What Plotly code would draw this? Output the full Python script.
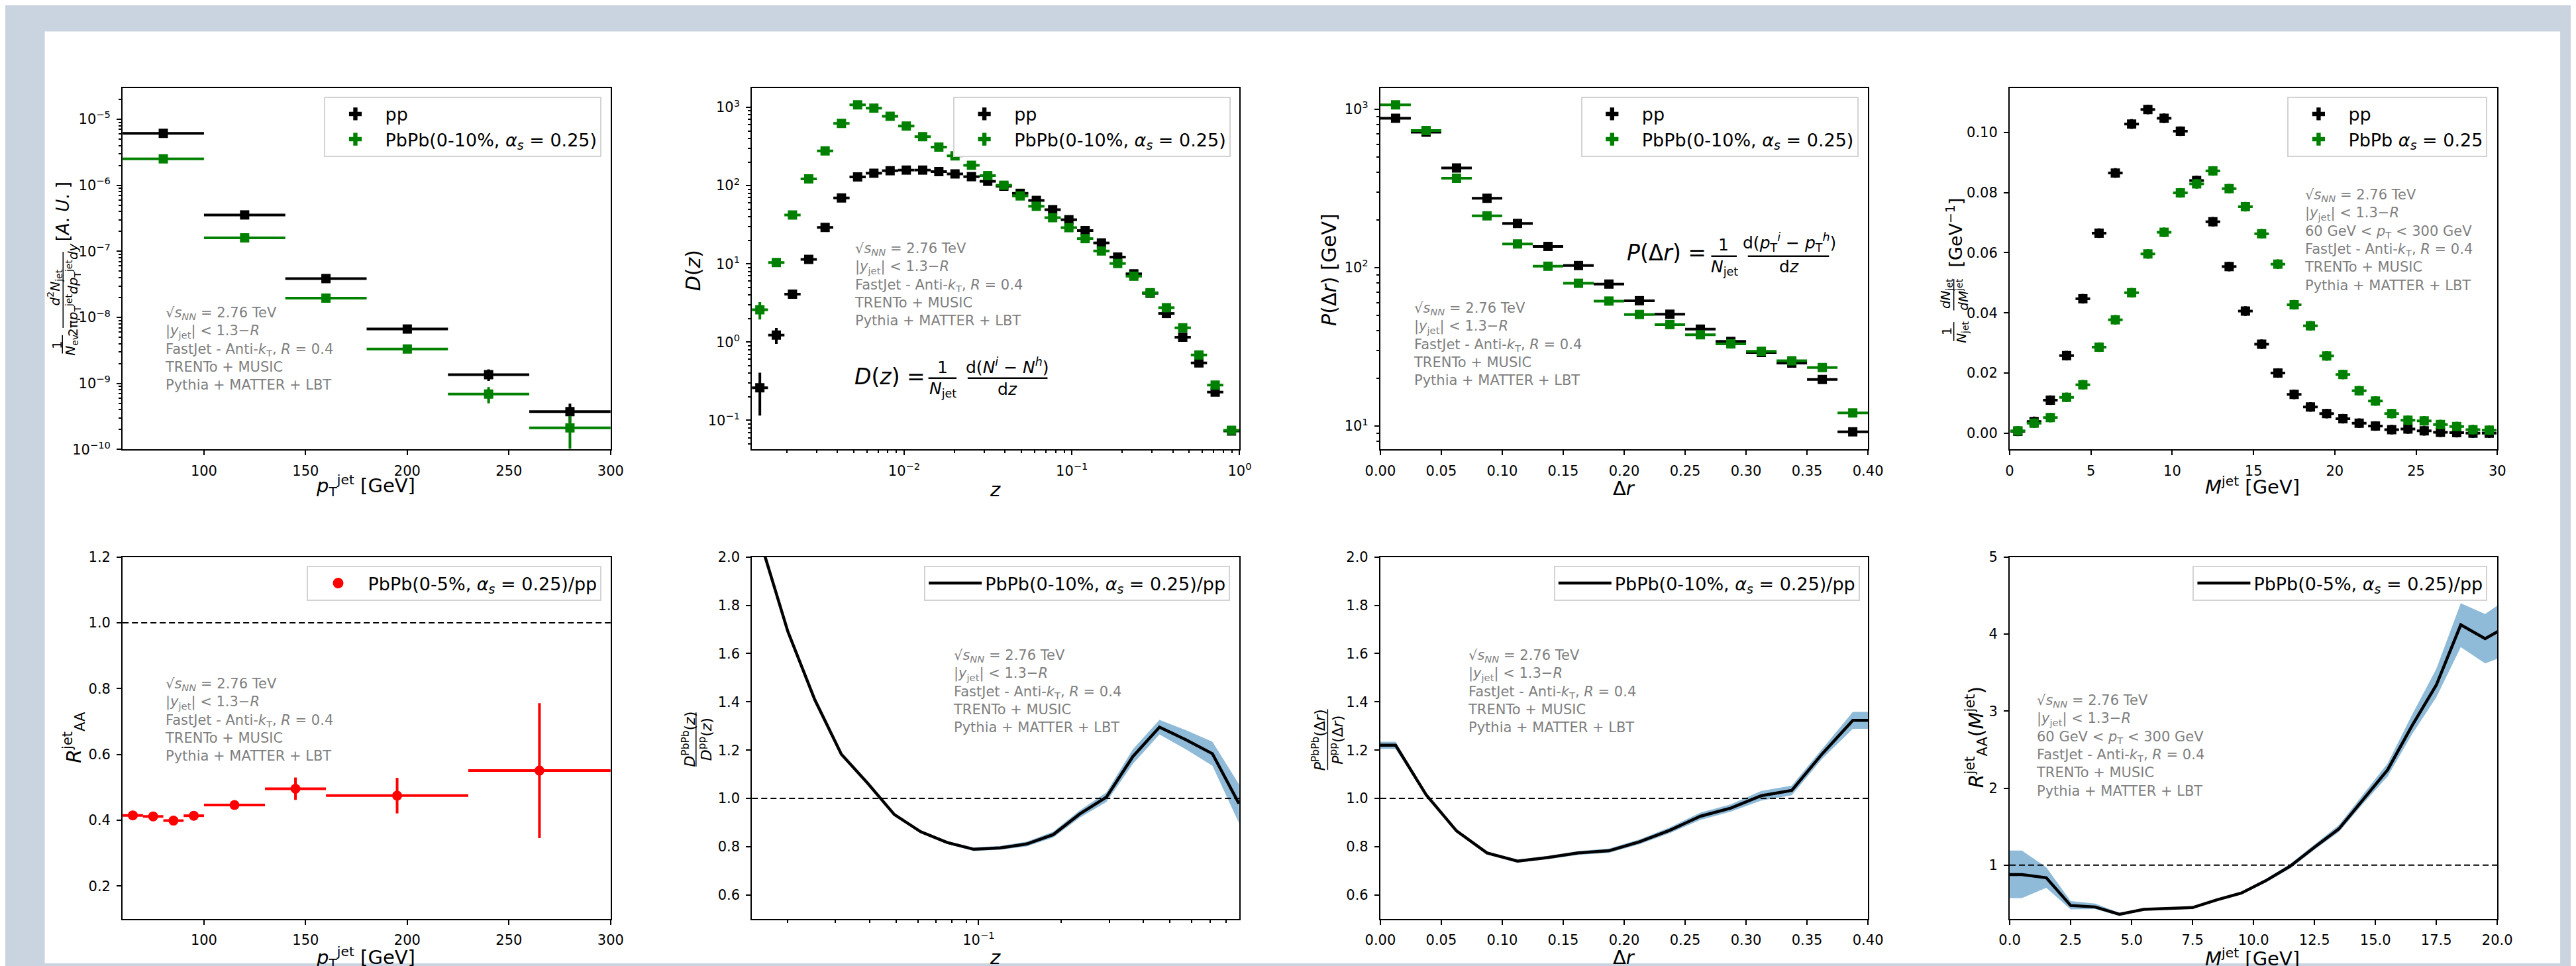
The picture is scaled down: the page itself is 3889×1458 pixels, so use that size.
import plotly.graph_objects as go

W, H = 3889, 1458
FONT = "DejaVu Sans"
BAND = "rgba(31,119,180,0.5)"

# ---------------- data ----------------
# Panel 1: jet spectra
pt_centers = [80, 120, 160, 200, 240, 280]
pt_halfbin = [20, 20, 20, 20, 20, 20]
pp_spec = [6.13e-6, 3.56e-7, 3.87e-8, 6.67e-9, 1.36e-9, 3.76e-10]
pp_spec_err = [2.0e-7, 1.5e-8, 2.0e-9, 4.0e-10, 2.7e-10, 1.2e-10]
pbpb_spec = [2.52e-6, 1.60e-7, 1.96e-8, 3.32e-9, 6.9e-10, 2.13e-10]
pbpb_spec_err = [1.0e-7, 8.0e-9, 1.2e-9, 3.0e-10, 1.9e-10, 1.1e-10]

# Panel 2: fragmentation function D(z)
z_vals = [0.00138, 0.00173, 0.00216, 0.0027, 0.00338, 0.00423, 0.00528, 0.0066,
          0.00825, 0.0103, 0.0129, 0.0161, 0.0201, 0.0252, 0.0315, 0.0393,
          0.0492, 0.0614, 0.0768, 0.096, 0.12, 0.15, 0.1875, 0.234, 0.293,
          0.366, 0.458, 0.572, 0.715, 0.894]
z_bin_ratio = 1.118
pp_D = [0.26, 1.23, 4.09, 11.4, 29.2, 69.5, 129, 144, 155, 158, 158, 151, 141, 130,
        113.5, 98.3, 79.6, 64.6, 49.2, 36.6, 26.6, 18.5, 12.2, 7.45, 4.2, 2.32,
        1.15, 0.54, 0.229, 0.073]
pp_D_err = [0.145, 0.28, 0.3, 0.6, 1.2, 2.5, 4, 4, 4, 4, 4, 4, 4, 3.5, 3, 3, 2.5, 2,
            1.6, 1.2, 0.9, 0.6, 0.4, 0.25, 0.15, 0.09, 0.05, 0.025, 0.012, 0.004]
pbpb_D = [2.59, 10.4, 42, 122, 277, 624, 1079, 975, 770, 578, 423, 310, 240, 182,
          134, 101, 73.8, 54.4, 38.9, 29, 21, 14.6, 10.1, 6.95, 4.27, 2.75, 1.52,
          0.684, 0.282, 0.0745]
pbpb_D_err = [0.65, 0.5, 1.5, 4, 9, 20, 35, 30, 24, 18, 13, 9, 7, 5.5, 4, 3, 2.2, 1.6,
              1.2, 0.9, 0.65, 0.45, 0.3, 0.2, 0.13, 0.09, 0.05, 0.025, 0.012, 0.004]

# Panel 3: jet shape P(dr)
dr_vals = [0.0125, 0.0375, 0.0625, 0.0875, 0.1125, 0.1375, 0.1625, 0.1875,
           0.2125, 0.2375, 0.2625, 0.2875, 0.3125, 0.3375, 0.3625, 0.3875]
dr_half = [0.0125] * 16
pp_P = [875, 716, 425, 274, 190, 136, 103, 78.7, 61.8, 50.8, 40.9, 34.2, 29.1, 25.0, 19.7, 9.2]
pp_P_err = [15, 12, 8, 6, 4, 3, 2.5, 2, 1.6, 1.4, 1.2, 1.0, 0.9, 0.8, 0.7, 0.4]
pbpb_P = [1064, 733, 366, 212, 141, 102, 79.6, 61.5, 50.6, 43.7, 37.7, 33.0, 29.6, 25.8, 23.4, 12.1]
pbpb_P_err = [18, 12, 7, 5, 3.5, 2.5, 2, 1.6, 1.4, 1.2, 1.1, 1.0, 0.9, 0.8, 0.7, 0.5]

# Panel 4: jet mass
m_vals = [0.5, 1.5, 2.5, 3.5, 4.5, 5.5, 6.5, 7.5, 8.5, 9.5, 10.5, 11.5, 12.5, 13.5, 14.5,
          15.5, 16.5, 17.5, 18.5, 19.5, 20.5, 21.5, 22.5, 23.5, 24.5, 25.5, 26.5, 27.5,
          28.5, 29.5]
m_half = [0.45] * 30
pp_M = [0.0006, 0.0039, 0.011, 0.0258, 0.0447, 0.0665, 0.0865, 0.1028, 0.1076, 0.1047,
        0.1004, 0.0840, 0.0703, 0.0554, 0.0406, 0.0296, 0.0200, 0.0129, 0.0087, 0.0065,
        0.0048, 0.0033, 0.0024, 0.0012, 0.0014, 0.0008, 0.0003, 0.0002, 0.0000, 0.0000]
pbpb_M = [0.0008, 0.0033, 0.0052, 0.0119, 0.0161, 0.0286, 0.0377, 0.0467, 0.0596, 0.0668,
          0.0799, 0.0829, 0.0872, 0.0813, 0.0753, 0.0663, 0.0562, 0.0427, 0.0357, 0.0257,
          0.0195, 0.0141, 0.0107, 0.0065, 0.0043, 0.0041, 0.0029, 0.0022, 0.0012, 0.0010]
M_err = [0.0016] * 30

# Panel 5: R_AA(pT)
raa_pt = [65, 75, 85, 95, 115, 145, 195, 265]
raa_lo = [60, 70, 80, 90, 100, 130, 160, 230]
raa_hi = [70, 80, 90, 100, 130, 160, 230, 300]
raa = [0.415, 0.412, 0.399, 0.414, 0.4465, 0.496, 0.475, 0.551]
raa_err = [0.008, 0.007, 0.007, 0.009, 0.012, 0.034, 0.054, 0.205]

# Panel 6: D(z) ratio
zr_vals = [0.0161, 0.0201, 0.0252, 0.0315, 0.0393, 0.0492, 0.0614, 0.0768, 0.096, 0.12,
           0.15, 0.1875, 0.234, 0.293, 0.366, 0.458, 0.572, 0.715, 0.894]
D_ratio = [2.05, 1.691, 1.409, 1.183, 1.063, 0.933, 0.862, 0.817, 0.789, 0.795, 0.811,
           0.85, 0.935, 1.005, 1.173, 1.295, 1.243, 1.185, 0.978]
D_ratio_err = [0.01, 0.01, 0.008, 0.007, 0.006, 0.006, 0.006, 0.006, 0.007, 0.008, 0.01,
               0.012, 0.015, 0.02, 0.03, 0.03, 0.04, 0.05, 0.08]

# Panel 7: P(dr) ratio
drr_vals = [0.0, 0.0125, 0.0375, 0.0625, 0.0875, 0.1125, 0.1375, 0.1625, 0.1875, 0.2125,
            0.2375, 0.2625, 0.2875, 0.3125, 0.3375, 0.3625, 0.3875, 0.4]
P_ratio = [1.22, 1.22, 1.015, 0.865, 0.774, 0.740, 0.755, 0.774, 0.783, 0.820, 0.868,
           0.926, 0.96, 1.011, 1.033, 1.185, 1.323, 1.323]
P_ratio_err = [0.015, 0.015, 0.008, 0.006, 0.006, 0.006, 0.007, 0.008, 0.009, 0.01, 0.012,
               0.015, 0.015, 0.02, 0.02, 0.02, 0.035, 0.035]

# Panel 8: R_AA(M)
mr_vals = [0.0, 0.5, 1.5, 2.5, 3.5, 4.5, 5.5, 6.5, 7.5, 8.5, 9.5, 10.5, 11.5, 12.5, 13.5,
           14.5, 15.5, 16.5, 17.5, 18.5, 19.5, 20.5]
M_ratio = [0.878, 0.878, 0.836, 0.476, 0.457, 0.361, 0.426, 0.433, 0.449, 0.55, 0.637,
           0.797, 0.985, 1.233, 1.47, 1.853, 2.237, 2.81, 3.34, 4.12, 3.94, 4.12]
M_ratio_lo = [0.572, 0.572, 0.706, 0.426, 0.43, 0.34, 0.41, 0.42, 0.435, 0.535, 0.62,
              0.775, 0.955, 1.2, 1.43, 1.80, 2.15, 2.70, 3.18, 3.83, 3.62, 3.74]
M_ratio_hi = [1.19, 1.19, 0.973, 0.533, 0.50, 0.38, 0.44, 0.445, 0.465, 0.565, 0.655,
              0.82, 1.015, 1.27, 1.52, 1.92, 2.32, 2.95, 3.55, 4.40, 4.26, 4.48]

LEG_PP = "pp"
LEG_PB10 = "PbPb(0-10%, <i>α</i><sub><i>s</i></sub> = 0.25)"
LEG_PB_M = "PbPb <i>α</i><sub><i>s</i></sub> = 0.25"
LEG_R5 = "PbPb(0-5%, <i>α</i><sub><i>s</i></sub> = 0.25)/pp"
LEG_R10 = "PbPb(0-10%, <i>α</i><sub><i>s</i></sub> = 0.25)/pp"

# ---------------- helpers ----------------
def px(x):
    return x / W


def py(y):
    return 1 - y / H


COLS = [(156, 901.5), (1117.5, 1862.5), (2077.5, 2822.5), (3039, 3784)]
ROWS = [(115, 669.5), (834.5, 1390)]

fig = go.Figure()


def ax_names(i):
    return ("x" if i == 1 else f"x{i}"), ("y" if i == 1 else f"y{i}")


def leg_name(i):
    return "legend" if i == 1 else f"legend{i}"


def points(i, x, y, xe, ye, color, symbol="square", xem=None, size=14):
    xa, ya = ax_names(i)
    ex = dict(type="data", array=xe, thickness=4, width=0, color=color)
    if xem is not None:
        ex["arrayminus"] = xem
        ex["symmetric"] = False
    fig.add_trace(go.Scatter(
        x=x, y=y, mode="markers", xaxis=xa, yaxis=ya, showlegend=False,
        marker=dict(symbol=symbol, size=size, color=color, line=dict(width=0)),
        error_x=ex,
        error_y=dict(type="data", array=ye, thickness=4, width=0, color=color),
        cliponaxis=True))


def legend_marker(i, name, color, symbol="cross"):
    xa, ya = ax_names(i)
    fig.add_trace(go.Scatter(
        x=[None], y=[None], mode="markers", xaxis=xa, yaxis=ya, name=name,
        legend=leg_name(i), showlegend=True,
        marker=dict(symbol=symbol, size=24, color=color, line=dict(width=0))))


def ratio_line(i, x, y, lo, hi, name):
    xa, ya = ax_names(i)
    fig.add_trace(go.Scatter(x=x, y=lo, mode="lines", xaxis=xa, yaxis=ya,
                             line=dict(width=0, color=BAND), showlegend=False,
                             hoverinfo="skip"))
    fig.add_trace(go.Scatter(x=x, y=hi, mode="lines", xaxis=xa, yaxis=ya,
                             line=dict(width=0, color=BAND), fill="tonexty",
                             fillcolor=BAND, showlegend=False, hoverinfo="skip"))
    fig.add_trace(go.Scatter(x=x, y=y, mode="lines", xaxis=xa, yaxis=ya,
                             line=dict(width=4.5, color="black"), name=name,
                             legend=leg_name(i), showlegend=True))


# ---------------- traces ----------------
points(1, pt_centers, pp_spec, pt_halfbin, pp_spec_err, "black")
points(1, pt_centers, pbpb_spec, pt_halfbin, pbpb_spec_err, "green")
legend_marker(1, LEG_PP, "black")
legend_marker(1, LEG_PB10, "green")

z_plus = [z * z_bin_ratio - z for z in z_vals]
z_minus = [z - z / z_bin_ratio for z in z_vals]
points(2, z_vals, pp_D, z_plus, pp_D_err, "black", xem=z_minus)
points(2, z_vals, pbpb_D, z_plus, pbpb_D_err, "green", xem=z_minus)
legend_marker(2, LEG_PP, "black")
legend_marker(2, LEG_PB10, "green")

points(3, dr_vals, pp_P, dr_half, pp_P_err, "black")
points(3, dr_vals, pbpb_P, dr_half, pbpb_P_err, "green")
legend_marker(3, LEG_PP, "black")
legend_marker(3, LEG_PB10, "green")

points(4, m_vals, pp_M, m_half, M_err, "black")
points(4, m_vals, pbpb_M, m_half, M_err, "green")
legend_marker(4, LEG_PP, "black")
legend_marker(4, LEG_PB_M, "green")

points(5, raa_pt, raa, [h - c for h, c in zip(raa_hi, raa_pt)], raa_err, "red",
       symbol="circle", xem=[c - l for l, c in zip(raa_lo, raa_pt)], size=15)
legend_marker(5, LEG_R5, "red", symbol="circle")

ratio_line(6, zr_vals, D_ratio, [v - e for v, e in zip(D_ratio, D_ratio_err)],
           [v + e for v, e in zip(D_ratio, D_ratio_err)], LEG_R10)
ratio_line(7, drr_vals, P_ratio, [v - e for v, e in zip(P_ratio, P_ratio_err)],
           [v + e for v, e in zip(P_ratio, P_ratio_err)], LEG_R10)
ratio_line(8, mr_vals, M_ratio, M_ratio_lo, M_ratio_hi, LEG_R5)

# ---------------- axes ----------------
def base_axis(domain):
    return dict(domain=domain, showline=True, linecolor="black", linewidth=2, mirror=True,
                ticks="outside", ticklen=7, tickwidth=2, tickcolor="black",
                showgrid=False, zeroline=False, ticklabelstandoff=5,
                tickfont=dict(family=FONT, size=21, color="black"))


def pw(e):
    return "10<sup>" + ("−" if e < 0 else "") + str(abs(e)) + "</sup>"


def log_minor(e0, e1):
    return dict(tickvals=[m * 10.0 ** e for e in range(e0, e1 + 1) for m in range(2, 10)],
                ticks="outside", ticklen=4, tickwidth=1.5, tickcolor="black", showgrid=False)


axes = {}
for i in range(1, 9):
    c = COLS[(i - 1) % 4]
    r = ROWS[(i - 1) // 4]
    xd = [px(c[0]), px(c[1])]
    yd = [py(r[1]), py(r[0])]
    xa, ya = ax_names(i)
    xk = "xaxis" if i == 1 else f"xaxis{i}"
    yk = "yaxis" if i == 1 else f"yaxis{i}"
    axes[xk] = base_axis(xd)
    axes[yk] = base_axis(yd)
    axes[xk]["anchor"] = ya
    axes[yk]["anchor"] = xa

axes["xaxis"].update(range=[60, 300], tickvals=[100, 150, 200, 250, 300])
axes["yaxis"].update(type="log", range=[-10, -4.53],
                     tickvals=[10.0 ** e for e in range(-10, -4)],
                     ticktext=[pw(e) for e in range(-10, -4)], minor=log_minor(-10, -5))
axes["xaxis2"].update(type="log", range=[-2.907, 0], tickvals=[0.01, 0.1, 1],
                      ticktext=[pw(-2), pw(-1), pw(0)], minor=log_minor(-3, -1))
axes["yaxis2"].update(type="log", range=[-1.374, 3.245],
                      tickvals=[10.0 ** e for e in range(-1, 4)],
                      ticktext=[pw(e) for e in range(-1, 4)], minor=log_minor(-2, 3))
axes["xaxis3"].update(range=[0, 0.4], tickvals=[0, 0.05, 0.1, 0.15, 0.2, 0.25, 0.3, 0.35, 0.4],
                      ticktext=["0.00", "0.05", "0.10", "0.15", "0.20", "0.25", "0.30", "0.35", "0.40"])
axes["yaxis3"].update(type="log", range=[0.852, 3.132], tickvals=[10, 100, 1000],
                      ticktext=[pw(1), pw(2), pw(3)], minor=log_minor(0, 3))
axes["xaxis4"].update(range=[0, 30], tickvals=[0, 5, 10, 15, 20, 25, 30])
axes["yaxis4"].update(range=[-0.00543, 0.1147], tickvals=[0, 0.02, 0.04, 0.06, 0.08, 0.1],
                      ticktext=["0.00", "0.02", "0.04", "0.06", "0.08", "0.10"])
axes["xaxis5"].update(range=[60, 300], tickvals=[100, 150, 200, 250, 300])
axes["yaxis5"].update(range=[0.1, 1.2], tickvals=[0.2, 0.4, 0.6, 0.8, 1.0, 1.2],
                      ticktext=["0.2", "0.4", "0.6", "0.8", "1.0", "1.2"])
axes["xaxis6"].update(type="log", range=[-1.828, -0.0463], tickvals=[0.1], ticktext=[pw(-1)],
                      minor=log_minor(-2, -1))
axes["yaxis6"].update(range=[0.5, 2.0], tickvals=[0.6, 0.8, 1.0, 1.2, 1.4, 1.6, 1.8, 2.0],
                      ticktext=["0.6", "0.8", "1.0", "1.2", "1.4", "1.6", "1.8", "2.0"])
axes["xaxis7"].update(range=[0, 0.4], tickvals=[0, 0.05, 0.1, 0.15, 0.2, 0.25, 0.3, 0.35, 0.4],
                      ticktext=["0.00", "0.05", "0.10", "0.15", "0.20", "0.25", "0.30", "0.35", "0.40"])
axes["yaxis7"].update(range=[0.5, 2.0], tickvals=[0.6, 0.8, 1.0, 1.2, 1.4, 1.6, 1.8, 2.0],
                      ticktext=["0.6", "0.8", "1.0", "1.2", "1.4", "1.6", "1.8", "2.0"])
axes["xaxis8"].update(range=[0, 20], tickvals=[0, 2.5, 5, 7.5, 10, 12.5, 15, 17.5, 20],
                      ticktext=["0.0", "2.5", "5.0", "7.5", "10.0", "12.5", "15.0", "17.5", "20.0"])
axes["yaxis8"].update(range=[0.3, 5], tickvals=[1, 2, 3, 4, 5])

# ---------------- legends ----------------
LEG_RIGHT = [888, 1849, 2808, 3769, 888, 1848, 2810, 3769]
legends = {}
for i in range(1, 9):
    top = 128 if i <= 4 else 848
    legends[leg_name(i)] = dict(
        x=px(LEG_RIGHT[i - 1]), y=py(top), xref="paper", yref="paper",
        xanchor="right", yanchor="top", bgcolor="white", bordercolor="#d3d3d3",
        borderwidth=2, font=dict(family=FONT, size=27, color="black"),
        itemwidth=80, tracegroupgap=0, traceorder="normal")

# ---------------- annotations & shapes ----------------
ann = []
shapes = [dict(type="rect", xref="paper", yref="paper", x0=px(37), x1=px(3880), y0=0,
               y1=py(28), fillcolor="white", line=dict(width=0), layer="below")]


def text(x, y, s, size, color="black", xanchor="center", yanchor="middle", angle=0,
         align="center"):
    ann.append(dict(x=px(x), y=py(y), xref="paper", yref="paper", text=s, showarrow=False,
                    font=dict(family=FONT, size=size, color=color), xanchor=xanchor,
                    yanchor=yanchor, textangle=angle, align=align))


def hline(x0, x1, y, w=2):
    shapes.append(dict(type="line", xref="paper", yref="paper", x0=px(x0), x1=px(x1),
                       y0=py(y), y1=py(y), line=dict(color="black", width=w)))


def vline(x, y0, y1, w=2):
    shapes.append(dict(type="line", xref="paper", yref="paper", x0=px(x), x1=px(x),
                       y0=py(y0), y1=py(y1), line=dict(color="black", width=w)))


for i in (5, 6, 7, 8):
    xa, ya = ax_names(i)
    shapes.append(dict(type="line", xref=f"{xa} domain", yref=ya, x0=0, x1=1, y0=1, y1=1,
                       line=dict(color="black", width=2, dash="9px,5px")))

SQ = "√<i>s</i><sub><i>NN</i></sub> = 2.76 TeV"
YJ = "|<i>y</i><sub>jet</sub>| &lt; 1.3−<i>R</i>"
FJ = "FastJet - Anti-<i>k</i><sub>T</sub>, <i>R</i> = 0.4"
TM = "TRENTo + MUSIC"
PM = "Pythia + MATTER + LBT"
PT = "60 GeV &lt; <i>p</i><sub>T</sub> &lt; 300 GeV"
info5 = "<br>".join([SQ, YJ, FJ, TM, PM])
info6 = "<br>".join([SQ, YJ, PT, FJ, TM, PM])
GRAY = "#7f7f7f"
for (x, y, s) in [(219, 460, info5), (1272, 362, info5), (2126, 453, info5),
                  (3487, 279, info6), (219, 1030, info5), (1423, 986, info5),
                  (2209, 986, info5), (3077, 1055, info6)]:
    text(x, y - 15, s, 21, color=GRAY, xanchor="left", yanchor="top", align="left")

PTJ = "<i>p</i><sub>T</sub><sup>jet</sup> [GeV]"
MJ = "<i>M</i><sup>jet</sup> [GeV]"
for (x, y, s) in [(527, 725, PTJ), (1489, 731, "<i>z</i>"), (2450, 729, "Δ<i>r</i>"),
                  (3410, 725, MJ), (527, 1449, PTJ), (1489, 1449, "<i>z</i>"),
                  (2450, 1449, "Δ<i>r</i>"), (3410, 1449, MJ)]:
    text(x, y, s, 29)

text(1028, 395, "<i>D</i>(<i>z</i>)", 30, angle=-90)
text(1999, 393, "<i>P</i>(Δ<i>r</i>) [GeV]", 30, angle=-90)
text(82, 1111, "<i>R</i><sup>jet</sup><sub>AA</sub>", 30, angle=-90)
text(2988, 1111, "<i>R</i><sup>jet</sup><sub>AA</sub>(<i>M</i><sup>jet</sup>)", 30, angle=-90)

# Panel 1 y title (rotated fractions)
text(55, 509, "1", 20, angle=-90)
vline(64, 494, 522, 1.5)
text(77, 509, "<i>N</i><sub>ev</sub>", 20, angle=-90)
text(52, 421, "<i>d</i><sup>2</sup><i>N</i><sub>jet</sub>", 20, angle=-90)
vline(65, 366, 483, 1.5)
text(80, 424, "2π<i>p</i><sub>T</sub><sup>jet</sup><i>dp</i><sub>T</sub><sup>jet</sup><i>dy</i>",
     20, angle=-90)
text(65, 304, "[<i>A</i>. <i>U</i>. ]", 26, angle=-90)

# Panel 4 y title
text(2943, 488, "1", 20, angle=-90)
vline(2953.6, 474, 503, 1.5)
text(2966, 489, "<i>N</i><sub>jet</sub>", 20, angle=-90)
text(2942, 430, "<i>dN</i><sub>jet</sub>", 20, angle=-90)
vline(2953.6, 408, 456, 1.5)
text(2967, 432, "<i>dM</i><sup>jet</sup>", 20, angle=-90)
text(2954, 337, "[GeV<sup>−1</sup>]", 27, angle=-90)

# Panel 6 y title
text(1021, 1114, "<i>D</i><sup>PbPb</sup>(<i>z</i>)", 22, angle=-90)
vline(1032, 1073, 1156, 1.5)
text(1046, 1114, "<i>D</i><sup>pp</sup>(<i>z</i>)", 22, angle=-90)

# Panel 7 y title
text(1983, 1115, "<i>P</i><sup>PbPb</sup>(Δ<i>r</i>)", 22, angle=-90)
vline(1997, 1068, 1161, 1.5)
text(2010, 1115, "<i>P</i><sup>pp</sup>(Δ<i>r</i>)", 22, angle=-90)

# Panel 2 formula
text(1272, 558, "<i>D</i>(<i>z</i>) =", 33, xanchor="left")
text(1409, 543, "1", 25)
hline(1387, 1430, 560, 2.5)
text(1409, 577, "<i>N</i><sub>jet</sub>", 25)
text(1508, 541, "d(<i>N</i><sup><i>i</i></sup> − <i>N</i><sup><i>h</i></sup>)", 25)
hline(1447, 1569, 560, 2.5)
text(1508, 577, "d<i>z</i>", 25)

# Panel 3 formula
text(2452, 368, "<i>P</i>(Δ<i>r</i>) =", 33, xanchor="left")
text(2602, 355, "1", 25)
hline(2583, 2622, 373, 2.5)
text(2603, 390, "<i>N</i><sub>jet</sub>", 25)
text(2702, 352, "d(<i>p</i><sub>T</sub><sup><i>i</i></sup> − <i>p</i><sub>T</sub><sup><i>h</i></sup>)", 25)
hline(2639, 2763, 373, 2.5)
text(2702, 389, "d<i>z</i>", 25)

fig.update_layout(
    width=W, height=H, margin=dict(l=0, r=0, t=0, b=0),
    paper_bgcolor="#c9d4e0", plot_bgcolor="white",
    font=dict(family=FONT, color="black"),
    annotations=ann, shapes=shapes, showlegend=True,
    **axes, **legends)

fig.write_html("out.html")
